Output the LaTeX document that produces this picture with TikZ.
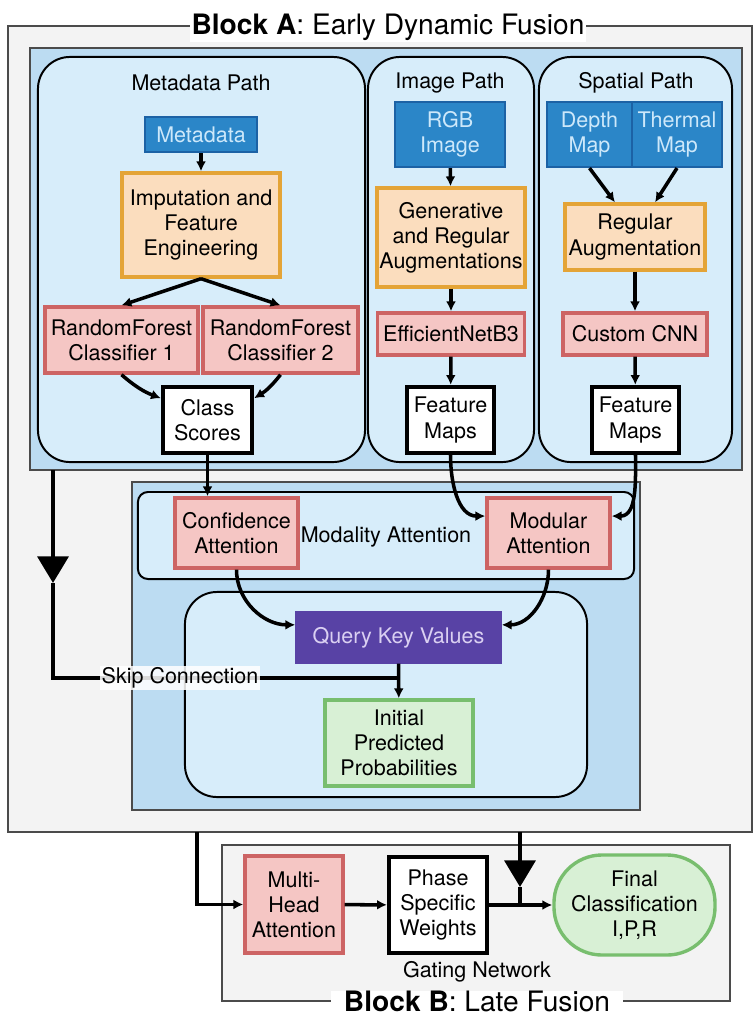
\documentclass[tikz,border=0pt]{standalone}
\usepackage{fontspec}
\setmainfont{TeX Gyre Heros}
\usetikzlibrary{arrows.meta, calc, positioning}

\definecolor{outgray}{RGB}{243,243,243}
\definecolor{framegray}{RGB}{75,75,75}
\definecolor{panelblue}{RGB}{188,220,242}
\definecolor{pathfill}{RGB}{215,237,250}
\definecolor{inblue}{RGB}{43,134,200}
\definecolor{inblueline}{RGB}{28,98,165}
\definecolor{intext}{RGB}{205,232,250}
\definecolor{augfill}{RGB}{251,221,190}
\definecolor{augline}{RGB}{228,164,55}
\definecolor{netfill}{RGB}{245,198,196}
\definecolor{netline}{RGB}{205,100,100}
\definecolor{qkvfill}{RGB}{88,66,165}
\definecolor{qkvtext}{RGB}{218,208,242}
\definecolor{probfill}{RGB}{216,240,213}
\definecolor{probline}{RGB}{120,190,110}

\begin{document}
\begin{tikzpicture}[
  x=0.025cm, y=-0.025cm,
  every node/.style={font=\fontsize{15.3}{17.8}\selectfont},
  box/.style={draw, line width=2.4pt, align=center, inner sep=1pt},
  inbox/.style={box, fill=inblue, draw=inblueline, line width=1.5pt, text=intext},
  augbox/.style={box, fill=augfill, draw=augline},
  netbox/.style={box, fill=netfill, draw=netline},
  outbox/.style={box, fill=white, draw=black, line width=3pt},
  qkvbox/.style={box, fill=qkvfill, draw=qkvfill, text=qkvtext},
  probbox/.style={box, fill=probfill, draw=probline},
  frame/.style={draw=framegray, line width=1.3pt},
  panel/.style={draw=framegray, line width=1.2pt, fill=panelblue},
  pathbox/.style={draw=black, line width=1.4pt, fill=pathfill, rounded corners=0.8cm},
  title/.style={font=\fontsize{20}{24}\selectfont, fill=white, inner xsep=1pt, inner ysep=1pt},
  skiplbl/.style={fill=white, fill opacity=0.85, text opacity=1, inner sep=1pt},
  arr/.style={-{Latex[length=7pt,width=7pt]}, line width=2.5pt},
  thick line/.style={line width=2.8pt},
  bigtri/.style={-{Triangle[length=19pt,width=22pt]}, line width=2.8pt},
]
  \useasboundingbox (0,0) rectangle (754,1015);

  %% ══════════════════════════════════════════════════════
  %% Block A frame
  \node[frame, fill=outgray] (blockA) at (380,429)
    [minimum width=18.6cm, minimum height=20.15cm] {};
  \node[title] (titleA) at (388,27) {\textbf{Block A}: Early Dynamic Fusion};

  %% Upper blue panel with the three paths
  \node[panel] (bluetop) at (386,259) [minimum width=17.8cm, minimum height=10.55cm] {};
  \node[pathbox] (metapath) at (201.5,259.5) [minimum width=8.175cm, minimum height=10.125cm] {};
  \node[pathbox] (imgpath)  at (451,259.5)   [minimum width=4.15cm,  minimum height=10.125cm] {};
  \node[pathbox] (spapath)  at (635.5,259.5) [minimum width=4.825cm, minimum height=10.125cm] {};
  \node (metatitle) at (201,83) {Metadata Path};
  \node (imgtitle)  at (450,83) {Image Path};
  \node (spatitle)  at (636,83) {Spatial Path};

  %% Metadata path
  \node[inbox, minimum width=2.8cm, minimum height=0.875cm] (meta) at (201,134.5) {Metadata};
  \node[augbox, minimum width=3.95cm, minimum height=2.6cm] (imput) at (201,225)
    {Imputation and\\Feature\\Engineering};
  \node[netbox, minimum width=3.825cm, minimum height=1.65cm] (rf1) at (121.5,340)
    {RandomForest\\Classifier 1};
  \node[netbox, minimum width=3.875cm, minimum height=1.65cm] (rf2) at (280.5,340)
    {RandomForest\\Classifier 2};
  \node[outbox, minimum width=2.225cm, minimum height=1.65cm] (cls) at (207.5,420)
    {Class\\Scores};

  %% Image path
  \node[inbox, minimum width=2.75cm, minimum height=1.625cm] (rgb) at (450,134.5) {RGB\\Image};
  \node[augbox, minimum width=3.7cm, minimum height=2.475cm] (gen) at (451,237.5)
    {Generative\\and Regular\\Augmentations};
  \node[netbox, minimum width=3.675cm, minimum height=1.05cm] (eff) at (451,334) {EfficientNetB3};
  \node[outbox, minimum width=2.175cm, minimum height=1.65cm] (fm1) at (450.5,420) {Feature\\Maps};

  %% Spatial path
  \node[inbox, minimum width=2.125cm, minimum height=1.625cm] (depth) at (589.5,134.5) {Depth\\Map};
  \node[inbox, minimum width=2.25cm, minimum height=1.625cm] (thermal) at (677,134.5) {Thermal\\Map};
  \node[augbox, minimum width=3.5cm, minimum height=1.65cm] (regaug) at (635,237)
    {Regular\\Augmentation};
  \node[netbox, minimum width=3.6cm, minimum height=1.05cm] (cnn) at (635,334) {Custom CNN};
  \node[outbox, minimum width=2.175cm, minimum height=1.65cm] (fm2) at (635.5,420) {Feature\\Maps};

  %% ══════════════════════════════════════════════════════
  %% Lower blue panel: attention
  \node[panel] (bluebot) at (386,646) [minimum width=12.7cm, minimum height=8.2cm] {};
  \node[pathbox, rounded corners=0.25cm] (modatt) at (386,535.5)
    [minimum width=12.4cm, minimum height=2.175cm] {};
  \node (modlbl) at (386,537) {Modality Attention};
  \node[netbox, minimum width=3.075cm, minimum height=1.75cm] (conf) at (236.5,533)
    {Confidence\\Attention};
  \node[netbox, minimum width=3.075cm, minimum height=1.75cm] (mod) at (548.5,533)
    {Modular\\Attention};

  \node[pathbox] (inner) at (386,694.5) [minimum width=10.05cm, minimum height=5.125cm] {};
  \node[qkvbox, minimum width=5.075cm, minimum height=1.225cm] (qkv) at (398.5,637.5)
    {Query Key Values};
  \node[probbox, minimum width=3.7cm, minimum height=2.15cm] (init) at (399,743)
    {Initial\\Predicted\\Probabilities};

  %% ══════════════════════════════════════════════════════
  %% Block B
  \node[frame, fill=outgray] (blockB) at (476,923) [minimum width=12.7cm, minimum height=3.9cm] {};
  \node[title, inner xsep=9pt, inner ysep=0pt] (titleB) at (477,1001) {\textbf{Block B}: Late Fusion};
  \node (gatelbl) at (477,972) {Gating Network};
  \node[netbox, minimum width=2.45cm, minimum height=2.425cm] (mha) at (294,904.5)
    {Multi-\\Head\\Attention};
  \node[outbox, minimum width=2.45cm, minimum height=2.4cm] (pw) at (438,905)
    {Phase\\Specific\\Weights};
  \node[probbox, rounded corners=1.2cm, minimum width=4.025cm, minimum height=2.5cm] (fin)
    at (634.5,905) {Final\\Classification\\I,P,R};

  %% ══════════════════════════════════════════════════════
  %% ═══ ARROWS ═══

  %% Metadata path
  \draw[arr] (meta) -- (imput);
  \draw[arr] (imput.south) -- (rf1.north);
  \draw[arr] (imput.south) -- (rf2.north);
  \draw[arr] (rf1.south) to[bend right=10] (cls.155);
  \draw[arr] (rf2.south) to[bend left=10] (cls.25);

  %% Image path
  \draw[arr] (rgb) -- (gen);
  \draw[arr] (gen) -- (eff);
  \draw[arr] (eff) -- (fm1);

  %% Spatial path
  \draw[arr] (depth.south) -- (regaug.120);
  \draw[arr] (thermal.south) -- (regaug.60);
  \draw[arr] (regaug) -- (cnn);
  \draw[arr] (cnn) -- (fm2);

  %% Into the attention blocks
  \draw[arr] (cls.south) -- (cls.south |- conf.north);
  \draw[arr] (fm1.south) to[out=-90, in=180] (mod.165);
  \draw[arr] (fm2.south) to[out=-90, in=0] (mod.15);
  \draw[arr] (conf.south) to[out=-90, in=180] (qkv.173);
  \draw[arr] (mod.south) to[out=-90, in=0] (qkv.7);
  \draw[arr] (qkv) -- (init);

  %% Skip connection
  \coordinate (skiptop)  at (53,470);
  \coordinate (skiptri)  at (53,583);
  \coordinate (skipjoin) at (399,678);
  \draw[bigtri] (skiptop) -- (skiptri);
  \draw[thick line] (skiptri) |- (skipjoin);
  \node[skiplbl] (skiptxt) at (180,678) {Skip Connection};

  %% Block A -> Block B
  \coordinate (outa)    at (197,832);
  \coordinate (outb)    at (520,832);
  \coordinate (outbtri) at (520,887);
  \draw[arr, thick line] (outa) |- (mha.west);
  \draw[bigtri] (outb) -- (outbtri);
  \draw[thick line] (outbtri) -- (outb |- fin.west);
  \draw[arr] (mha) -- (pw);
  \draw[arr] (pw) -- (fin);
\end{tikzpicture}
\end{document}
